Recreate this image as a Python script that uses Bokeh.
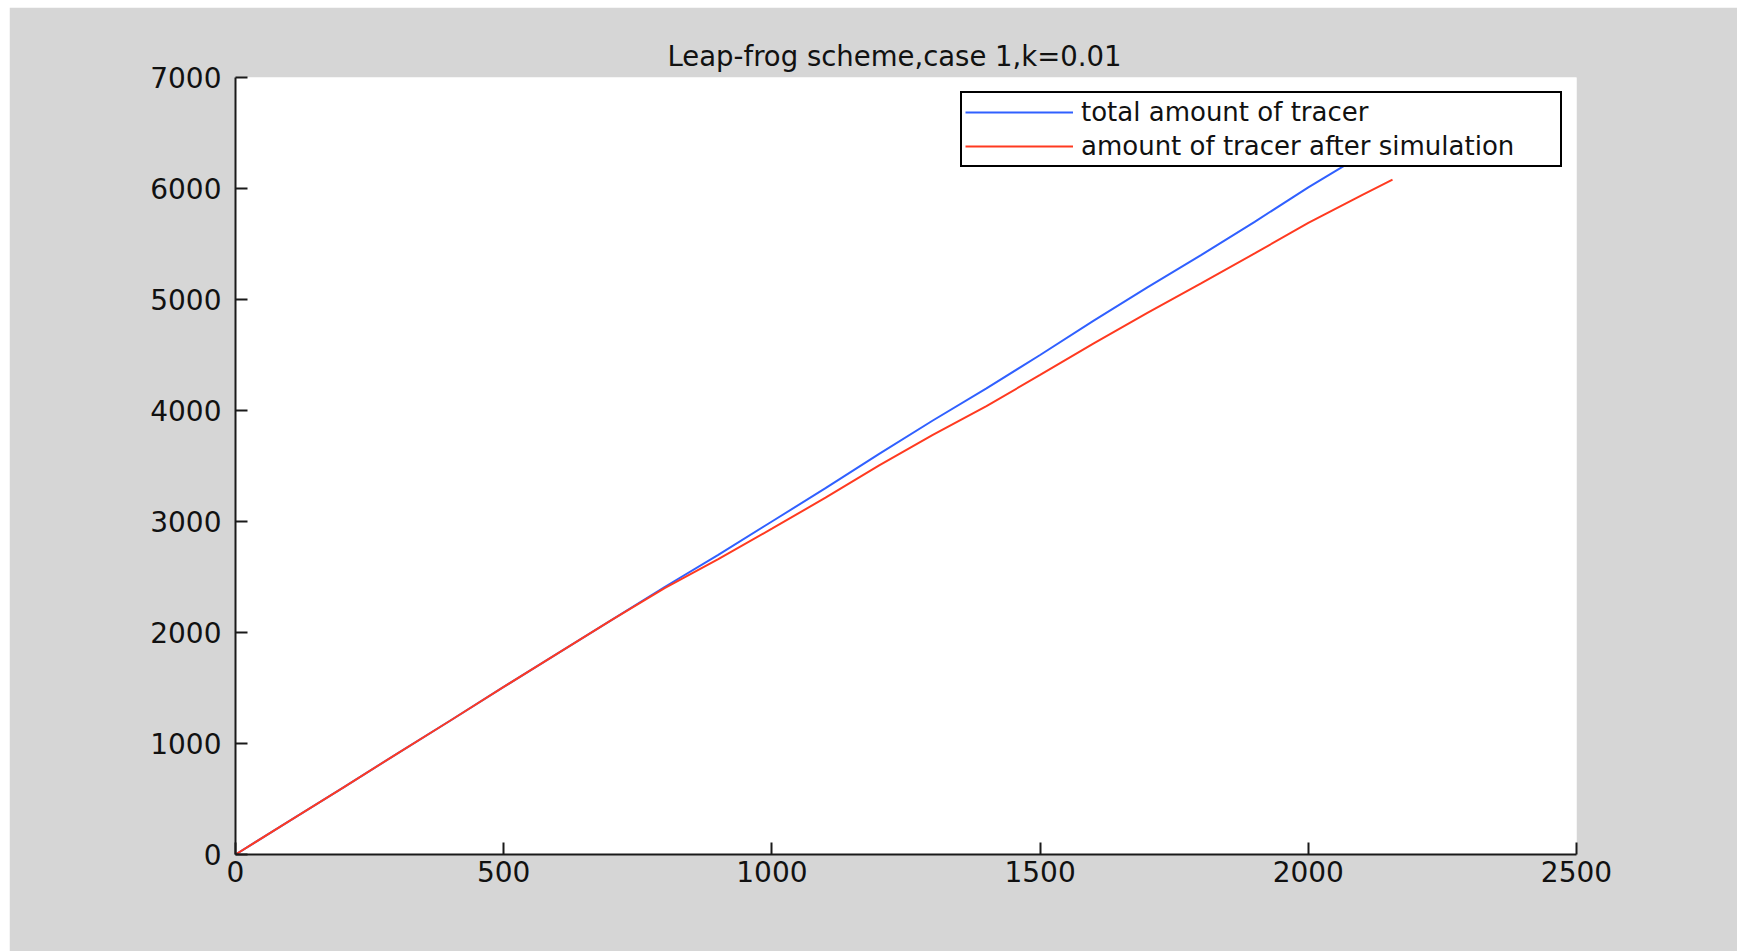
from bokeh.plotting import figure
from bokeh.models import Range1d, FixedTicker, Legend, LegendItem
from bokeh.embed import file_html
from bokeh.resources import INLINE

# ---- data ----
x_vals = [0, 100, 200, 300, 400, 500, 600, 700, 800, 900, 1000, 1100, 1200,
          1300, 1400, 1500, 1600, 1700, 1800, 1900, 2000, 2100, 2157]
total_tracer = [0, 300, 600, 905, 1205, 1510, 1810, 2110, 2410, 2700, 3000, 3300,
                3610, 3910, 4200, 4500, 4810, 5110, 5400, 5700, 6010, 6300, 6470]
tracer_after = [0, 300, 600, 905, 1205, 1510, 1810, 2110, 2400, 2660, 2935, 3215,
                3505, 3780, 4040, 4320, 4605, 4880, 5145, 5415, 5690, 5940, 6080]
x_ticks = [0, 500, 1000, 1500, 2000, 2500]
y_ticks = [0, 1000, 2000, 3000, 4000, 5000, 6000, 7000]
title_text = "Leap-frog scheme,case 1,k=0.01"
series_names = ["total amount of tracer", "amount of tracer after simulation"]

FONT = "DejaVu Sans"

p = figure(width=1728, height=944, output_backend="svg", toolbar_location=None,
           x_range=Range1d(0, 2500), y_range=Range1d(0, 7000),
           min_border_left=226, min_border_right=161,
           min_border_top=70, min_border_bottom=97)
p.margin = (7, 0, 0, 9)
p.border_fill_color = "#d6d6d6"
p.background_fill_color = "white"
p.outline_line_color = None
p.xgrid.visible = False
p.ygrid.visible = False

p.title.text = title_text
p.title.align = "left"
p.title.offset = 432
p.title.text_font = FONT
p.title.text_font_size = "27.5px"
p.title.text_font_style = "normal"
p.title.text_color = "#111111"
p.title.standoff = 12

for ax, ticks, standoff in ((p.xaxis[0], x_ticks, 6), (p.yaxis[0], y_ticks, 14)):
    ax.ticker = FixedTicker(ticks=ticks)
    ax.axis_line_color = "#1a1a1a"
    ax.axis_line_width = 2
    ax.major_tick_line_color = "#1a1a1a"
    ax.major_tick_line_width = 2
    ax.major_tick_in = 12
    ax.major_tick_out = 0
    ax.minor_tick_in = 0
    ax.minor_tick_out = 0
    ax.major_label_text_font = FONT
    ax.major_label_text_font_size = "28px"
    ax.major_label_text_color = "#111111"
    ax.major_label_standoff = standoff

r_blue = p.line(x_vals, total_tracer, line_color="#3060ff", line_width=2)
r_red = p.line(x_vals, tracer_after, line_color="#ff3a20", line_width=2)

legend = Legend(items=[LegendItem(label=series_names[0], renderers=[r_blue]),
                       LegendItem(label=series_names[1], renderers=[r_red])],
                location="top_right")
legend.margin = 14
legend.padding = 3
legend.spacing = 2
legend.glyph_width = 108
legend.glyph_height = 32
legend.label_height = 32
legend.label_width = 476
legend.label_standoff = 8
legend.label_text_font = FONT
legend.label_text_font_size = "26px"
legend.label_text_color = "#111111"
legend.border_line_color = "black"
legend.border_line_width = 2
legend.border_line_alpha = 1.0
legend.background_fill_color = "white"
legend.background_fill_alpha = 1.0
p.add_layout(legend)

open("out.html", "w").write(file_html(p, INLINE))
